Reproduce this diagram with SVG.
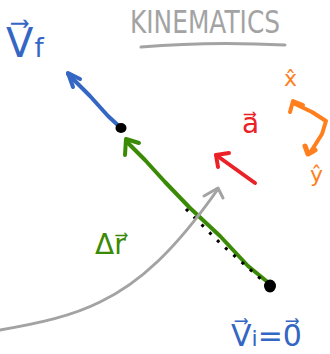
<svg xmlns="http://www.w3.org/2000/svg" width="330" height="354" viewBox="0 0 330 354">
<style>
.s{fill:none;stroke-linecap:round;stroke-linejoin:round}
.blue{stroke:#3466c4}
.green{stroke:#3b8a05}
.red{stroke:#ea2228}
.orange{stroke:#ff7f1f}
.gray{stroke:#a3a3a3}
.t{font-family:"DejaVu Sans","Liberation Sans",sans-serif}
</style>
<rect width="330" height="354" fill="#ffffff"/>
<g id="title">
<text class="t" x="130" y="33" font-size="32" fill="#a3a3a3" textLength="150" lengthAdjust="spacingAndGlyphs">KINEMATICS</text>
<path class="s gray" stroke-width="3" d="M141,47 Q210,41 285,45"/>
</g>
<g id="connectors">
<g id="arrow-vf">
<path class="s blue" stroke-width="4" d="M121,128 L108,116 L90,96 L68,74"/>
<path class="s blue" stroke-width="4" d="M80,79 L68,73 L73,87"/>
</g>
<g id="arrow-dr">
<path class="s green" stroke-width="4" d="M270,284 L248,266 L220,236 L190,208 L165,182 L145,160 L126,141"/>
<path class="s green" stroke-width="4" d="M139,143 L126,139 L125,155"/>
<path fill="none" stroke="#000" stroke-width="3" stroke-dasharray="3 8" d="M186,209 L221,244 L262,280"/>
</g>
<g id="arrow-a">
<path class="s red" stroke-width="4" d="M255,183 L216,155"/>
<path class="s red" stroke-width="4" d="M229,153 L216,155 L218,167"/>
</g>
<g id="path-curve">
<path class="s gray" stroke-width="3" d="M0,330 C40,323 72,316 100,302 C140,283 175,250 218,189"/>
<path class="s gray" stroke-width="3" d="M204,196 L218,188 L223,198"/>
</g>
<g id="axes">
<path class="s orange" stroke-width="4" d="M293,103 L312,112 L326,121 L322,134 L310,153"/>
<path class="s orange" stroke-width="4" d="M290,112 L293,101 L303,105"/>
<path class="s orange" stroke-width="5" d="M305,146 L308,154 L315,150"/>
</g>
</g>
<g id="dot-f"><ellipse cx="121" cy="128" rx="5.5" ry="5" fill="#000"/></g>
<g id="dot-i"><ellipse cx="270" cy="286" rx="6" ry="6.5" fill="#000"/></g>
<g id="label-vf">
<text class="t" x="6" y="57" font-size="40" fill="#3466c4">V⃗<tspan font-size="26" dx="1">f</tspan></text>
</g>
<g id="label-a">
<text class="t" x="242" y="133" font-size="28" fill="#ea2228">a⃗</text>
</g>
<g id="label-x">
<text class="t" x="284" y="86" font-size="22" fill="#ff7f1f">x̂</text>
</g>
<g id="label-y">
<text class="t" x="310" y="182" font-size="22" fill="#ff7f1f">ŷ</text>
</g>
<g id="label-dr">
<text class="t" x="95" y="254" font-size="28" fill="#3b8a05">Δr⃗</text>
</g>
<g id="label-vi">
<text class="t" x="231" y="346" font-size="30" fill="#3466c4">V⃗<tspan font-size="22">i</tspan>=0⃗</text>
</g>
</svg>
